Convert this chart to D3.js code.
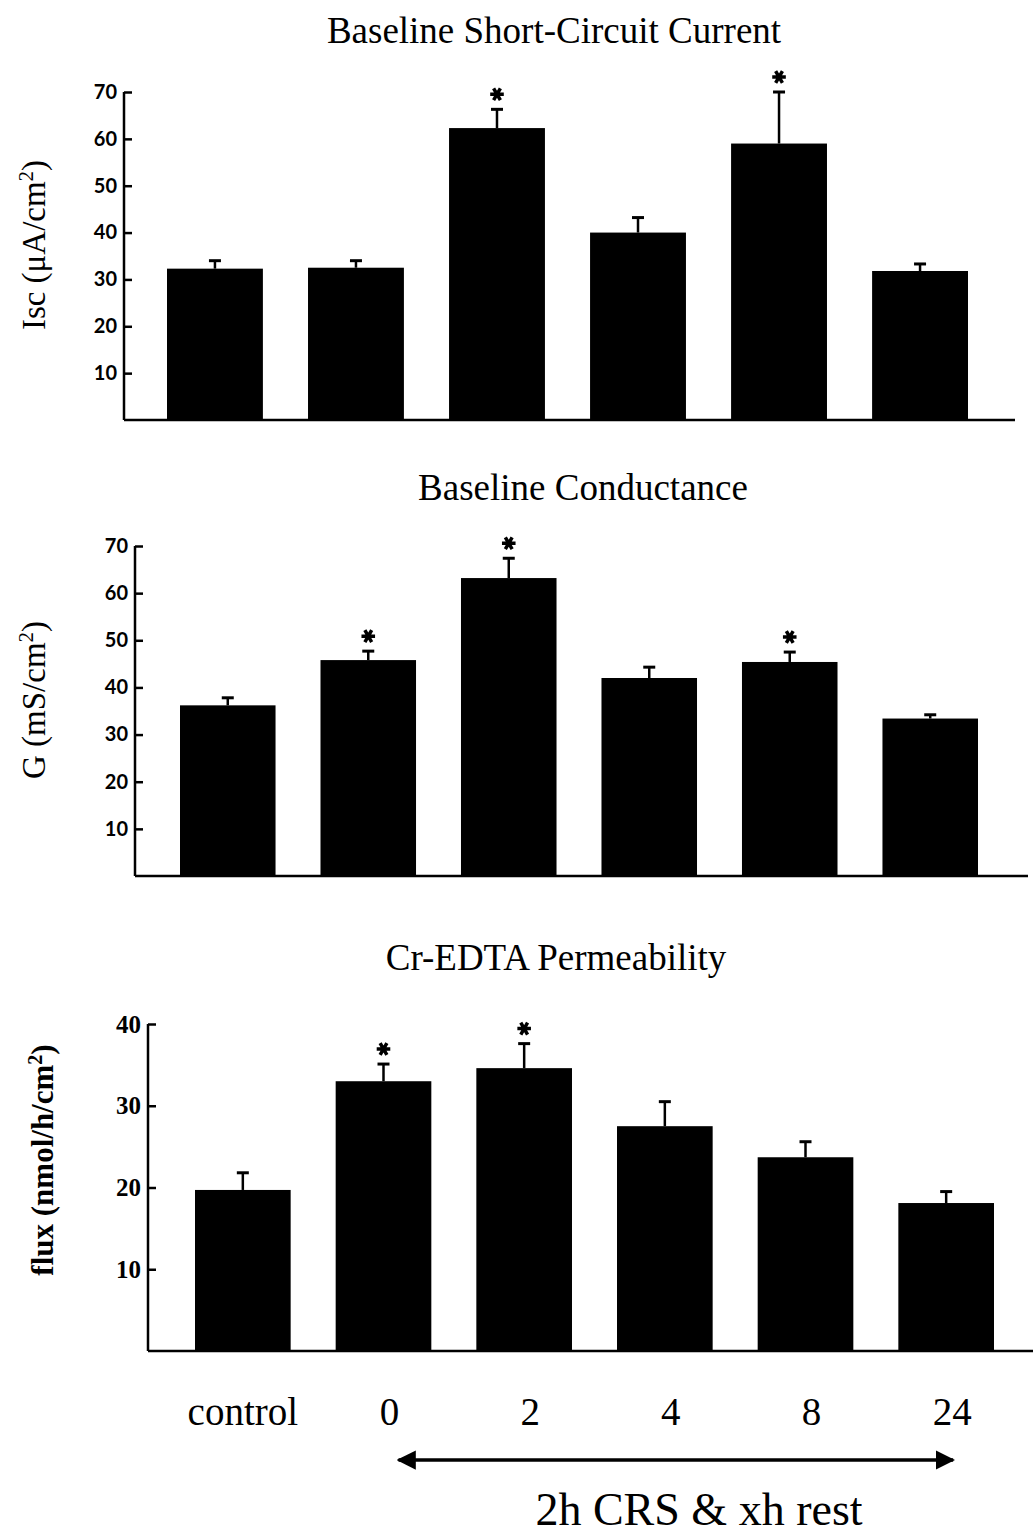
<!DOCTYPE html>
<html>
<head>
<meta charset="utf-8">
<script src="https://cdn.jsdelivr.net/npm/d3@7"></script>
<style>
  body { margin: 0; background: white; }
</style>
</head>
<body>
<div id="container"></div>
<script>
// categories (hours of rest after 2h CRS)
let groups = ["control", "0", "2", "4", "8", "24"];

// panel 1: baseline short-circuit current
let iscMean = [32.3, 32.5, 62.3, 40.0, 59.0, 31.8];
let iscErr  = [34.0, 34.0, 66.3, 43.2, 70.0, 33.3];
let iscStar = [false, false, true, false, true, false];

// panel 2: baseline conductance
let gMean = [36.2, 45.8, 63.2, 42.0, 45.4, 33.4];
let gErr  = [37.8, 47.7, 67.4, 44.3, 47.5, 34.2];
let gStar = [false, true, true, false, true, false];

// panel 3: Cr-EDTA flux
let fluxMean = [19.7, 33.0, 34.6, 27.5, 23.7, 18.1];
let fluxErr  = [21.8, 35.1, 37.6, 30.5, 25.6, 19.5];
let fluxStar = [false, true, true, false, false, false];

let iscTicks = [10, 20, 30, 40, 50, 60, 70];
let gTicks = [10, 20, 30, 40, 50, 60, 70];
let fluxTicks = [10, 20, 30, 40];

let w = 1033;
let h = 1537;

let viz = d3.select("#container")
  .append("svg")
    .attr("width", w)
    .attr("height", h)
    .style("background-color", "white");

let serif = "'Liberation Serif', 'Times New Roman', serif";
let sans = "Lato, 'Open Sans', sans-serif";

let star = d3.symbol().type(d3.symbolAsterisk).size(130);

function drawPanel(p){
  let yScale = d3.scaleLinear().domain([0, p.max]).range([p.base, p.top]);
  let xScale = d3.scaleBand().domain(groups).range([p.x0, p.x1]).paddingInner(0.32).paddingOuter(0);

  // title
  viz.append("text")
    .text(p.title)
    .attr("x", p.titleX)
    .attr("y", p.titleY)
    .attr("text-anchor", "middle")
    .attr("font-family", serif)
    .attr("font-size", p.titleSize);

  // y axis, ticks pointing inward
  let yAxis = d3.axisRight(yScale).tickValues(p.ticks).tickSize(8).tickFormat(d3.format("d"));
  let yAxisGroup = viz.append("g")
    .attr("transform", "translate(" + p.axisX + ",0)")
    .call(yAxis);
  yAxisGroup.select(".domain")
    .attr("d", "M0," + p.base + "V" + yScale(p.max))
    .attr("stroke-width", 2.5);
  yAxisGroup.selectAll(".tick line").attr("stroke-width", 2.5);
  yAxisGroup.selectAll(".tick text")
    .attr("x", -7)
    .attr("text-anchor", "end")
    .attr("font-family", p.tickFont)
    .attr("font-size", p.tickSize)
    .attr("font-weight", p.tickWeight)
    .attr("fill", "black");

  // x axis line
  viz.append("line")
    .attr("x1", p.axisX)
    .attr("x2", p.axisEnd)
    .attr("y1", p.base)
    .attr("y2", p.base)
    .attr("stroke", "black")
    .attr("stroke-width", 2.5);

  // y label
  viz.append("text")
    .attr("transform", "translate(" + p.labelX + "," + p.labelY + ") rotate(-90)")
    .attr("text-anchor", "middle")
    .attr("font-family", serif)
    .attr("font-size", p.labelSize)
    .attr("font-weight", p.labelWeight)
    .html(p.label);

  let data = groups.map(function(g, i){
    return {g: g, mean: p.mean[i], err: p.err[i], star: p.star[i]};
  });

  // error bars (drawn first, bars cover the lower part)
  viz.selectAll(null).data(data).enter().append("line")
    .attr("x1", d => xScale(d.g) + xScale.bandwidth() / 2)
    .attr("x2", d => xScale(d.g) + xScale.bandwidth() / 2)
    .attr("y1", d => yScale(d.mean))
    .attr("y2", d => yScale(d.err))
    .attr("stroke", "black")
    .attr("stroke-width", 2.5);
  viz.selectAll(null).data(data).enter().append("line")
    .attr("x1", d => xScale(d.g) + xScale.bandwidth() / 2 - 6)
    .attr("x2", d => xScale(d.g) + xScale.bandwidth() / 2 + 6)
    .attr("y1", d => yScale(d.err))
    .attr("y2", d => yScale(d.err))
    .attr("stroke", "black")
    .attr("stroke-width", 3);

  // bars
  viz.selectAll(null).data(data).enter().append("rect")
    .attr("x", d => xScale(d.g))
    .attr("y", d => yScale(d.mean))
    .attr("width", xScale.bandwidth())
    .attr("height", d => p.base - yScale(d.mean))
    .attr("fill", "black");

  // significance stars
  viz.selectAll(null).data(data.filter(d => d.star)).enter().append("path")
    .attr("d", star)
    .attr("transform", d => "translate(" + (xScale(d.g) + xScale.bandwidth() / 2) + "," + (yScale(d.err) - 15) + ") rotate(90)")
    .attr("fill", "none")
    .attr("stroke", "black")
    .attr("stroke-width", 3.5);

  return xScale;
}

drawPanel({
  title: "Baseline Short-Circuit Current", titleX: 554, titleY: 43, titleSize: 37,
  mean: iscMean, err: iscErr, star: iscStar, ticks: iscTicks, max: 70,
  base: 420, top: 92, axisX: 124, axisEnd: 1015, x0: 167, x1: 968,
  label: "Isc (μA/cm<tspan baseline-shift='super' font-size='21'>2</tspan>)",
  labelX: 45, labelY: 245, labelSize: 33, labelWeight: "normal",
  tickFont: sans, tickSize: 20, tickWeight: "bold"
});

drawPanel({
  title: "Baseline Conductance", titleX: 583, titleY: 500, titleSize: 37,
  mean: gMean, err: gErr, star: gStar, ticks: gTicks, max: 70,
  base: 876, top: 546, axisX: 135, axisEnd: 1028, x0: 180, x1: 978,
  label: "G (mS/cm<tspan baseline-shift='super' font-size='21'>2</tspan>)",
  labelX: 45, labelY: 700, labelSize: 33, labelWeight: "normal",
  tickFont: sans, tickSize: 20, tickWeight: "bold"
});

let xBottom = drawPanel({
  title: "Cr-EDTA Permeability", titleX: 556, titleY: 970, titleSize: 37,
  mean: fluxMean, err: fluxErr, star: fluxStar, ticks: fluxTicks, max: 40,
  base: 1351, top: 1024, axisX: 148, axisEnd: 1033, x0: 195, x1: 994,
  label: "flux (nmol/h/cm<tspan baseline-shift='super' font-size='20'>2</tspan>)",
  labelX: 53, labelY: 1160, labelSize: 31, labelWeight: "bold",
  tickFont: serif, tickSize: 25, tickWeight: "bold"
});

// category labels under the bottom panel
viz.selectAll(null).data(groups).enter().append("text")
  .text(d => d)
  .attr("x", d => xBottom(d) + xBottom.bandwidth() / 2 + (d == "control" ? 0 : 6))
  .attr("y", 1425)
  .attr("text-anchor", "middle")
  .attr("font-family", serif)
  .attr("font-size", 39);

// double headed arrow spanning the rest times
let defs = viz.append("defs");
defs.append("marker")
  .attr("id", "head")
  .attr("viewBox", "0 0 10 10")
  .attr("refX", 9).attr("refY", 5)
  .attr("markerWidth", 5.5).attr("markerHeight", 5.5)
  .attr("orient", "auto-start-reverse")
  .append("path")
    .attr("d", "M0,0 L10,5 L0,10 z")
    .attr("fill", "black");

let arrowLeft = xBottom("0") + xBottom.bandwidth() / 2 + 15;
let arrowRight = xBottom("24") + xBottom.bandwidth() / 2 + 7;
viz.append("line")
  .attr("x1", arrowLeft)
  .attr("x2", arrowRight)
  .attr("y1", 1460)
  .attr("y2", 1460)
  .attr("stroke", "black")
  .attr("stroke-width", 3.5)
  .attr("marker-start", "url(#head)")
  .attr("marker-end", "url(#head)");

viz.append("text")
  .text("2h CRS & xh rest")
  .attr("x", 699)
  .attr("y", 1525)
  .attr("text-anchor", "middle")
  .attr("font-family", serif)
  .attr("font-size", 46);
</script>
</body>
</html>
